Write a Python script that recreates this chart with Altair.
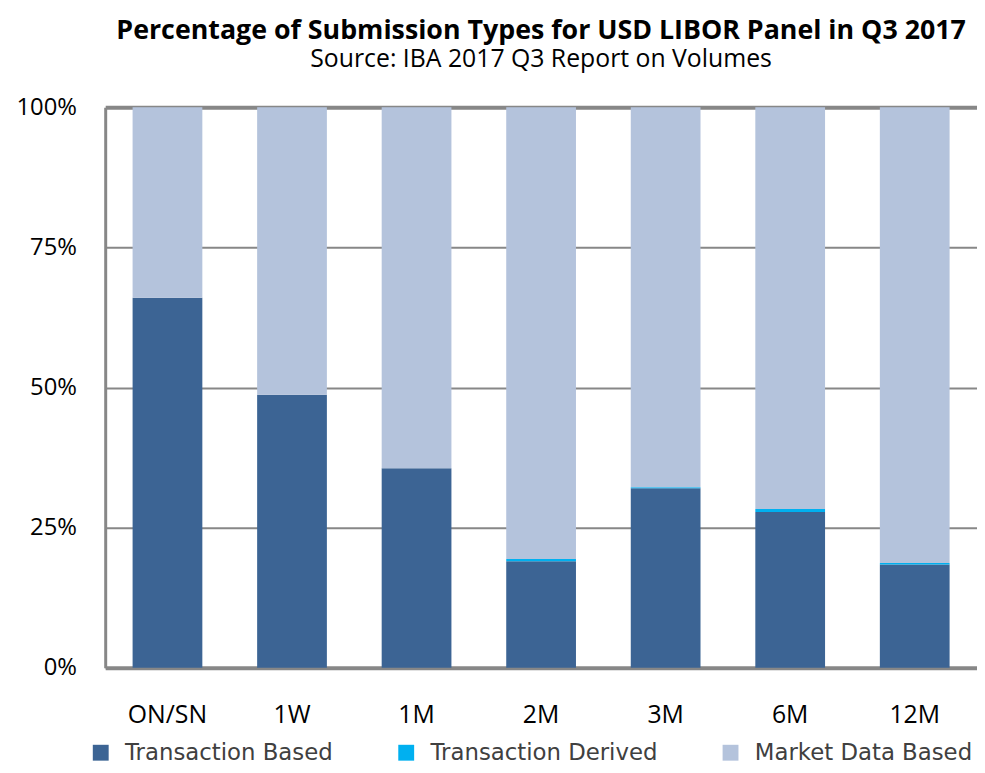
import altair as alt
import pandas as pd

tenors = ["ON/SN", "1W", "1M", "2M", "3M", "6M", "12M"]
transaction_based = [66.0, 48.7, 35.6, 19.0, 32.0, 27.8, 18.4]
transaction_derived = [0.0, 0.0, 0.0, 0.4, 0.2, 0.5, 0.3]
market_data_based = [34.0, 51.3, 64.4, 80.6, 67.8, 71.7, 81.3]

series_names = ["Transaction Based", "Transaction Derived", "Market Data Based"]
series_colors = ["#3C6494", "#00B0F0", "#B4C3DC"]

rows = []
for i, t in enumerate(tenors):
    for k, (name, vals) in enumerate(zip(series_names, [transaction_based, transaction_derived, market_data_based])):
        rows.append({"Tenor": t, "Type": name, "Value": vals[i] / 100.0, "order": k})
df = pd.DataFrame(rows)

chart = (
    alt.Chart(df)
    .mark_bar()
    .encode(
        x=alt.X(
            "Tenor:N",
            sort=tenors,
            title=None,
            scale=alt.Scale(paddingInner=0.44, paddingOuter=0.22),
            axis=alt.Axis(
                labelAngle=0,
                labelFont="Open Sans",
                labelFontSize=25,
                labelColor="#000000",
                labelPadding=35,
                ticks=False,
                domain=True,
                domainColor="#878787",
                domainWidth=4,
                grid=False,
            ),
        ),
        y=alt.Y(
            "Value:Q",
            stack="zero",
            title=None,
            scale=alt.Scale(domain=[0, 1], nice=False),
            axis=alt.Axis(
                values=[0, 0.25, 0.5, 0.75, 1.0],
                format=".0%",
                labelFont="Open Sans",
                labelFontSize=24,
                labelColor="#000000",
                labelPadding=29,
                ticks=False,
                domain=True,
                domainColor="#878787",
                domainWidth=3,
                grid=True,
                gridColor="#878787",
                gridWidth={"condition": {"test": "datum.value === 1", "value": 4}, "value": 2},
            ),
        ),
        color=alt.Color(
            "Type:N",
            sort=series_names,
            scale=alt.Scale(domain=series_names, range=series_colors),
            legend=alt.Legend(
                title=None,
                orient="none",
                direction="horizontal",
                legendX=-16,
                legendY=639,
                symbolType="square",
                symbolSize=256,
                symbolStrokeWidth=0,
                labelFont="DejaVu Sans",
                labelFontSize=23,
                labelColor="#404040",
                labelOffset=13,
                labelLimit=0,
                columnPadding=62,
            ),
        ),
        order=alt.Order("order:Q", sort="ascending"),
    )
    .properties(
        width=879,
        height=565,
        autosize=alt.AutoSizeParams(type="none"),
        padding={"left": 98, "top": 97, "right": 0, "bottom": 95},
        title=alt.TitleParams(
            text="Percentage of Submission Types for USD LIBOR Panel in Q3 2017",
            subtitle="Source: IBA 2017 Q3 Report on Volumes",
            anchor="middle",
            frame="group",
            font="Open Sans",
            fontSize=27,
            fontWeight="bold",
            color="#000000",
            subtitleFont="Open Sans",
            subtitleFontSize=25,
            subtitleColor="#000000",
            subtitlePadding=2,
            offset=23,
        ),
    )
    .configure_view(stroke=None)
)

chart.save("out.html", embed_options={"renderer": "svg", "actions": False})
